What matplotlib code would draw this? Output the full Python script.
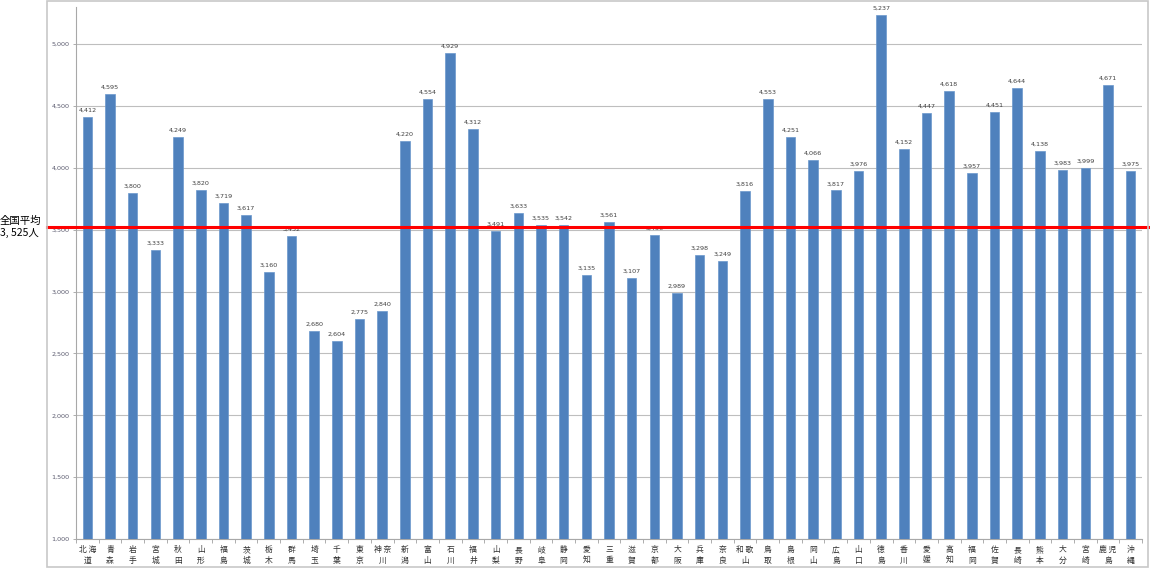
import matplotlib
matplotlib.use("Agg")
import matplotlib.pyplot as plt
from matplotlib.patches import Rectangle
from matplotlib.lines import Line2D
from matplotlib.ticker import FixedLocator, FuncFormatter
import matplotlib.transforms as mtransforms

plt.rcParams['font.family'] = ['Noto Sans CJK JP', 'DejaVu Sans']

prefectures = ["北 海\n道", "青\n森", "岩\n手", "宮\n城", "秋\n田", "山\n形", "福\n島",
               "茨\n城", "栃\n木", "群\n馬", "埼\n玉", "千\n葉", "東\n京", "神 奈\n川",
               "新\n潟", "富\n山", "石\n川", "福\n井", "山\n梨", "長\n野", "岐\n阜",
               "静\n岡", "愛\n知", "三\n重", "滋\n賀", "京\n都", "大\n阪", "兵\n庫",
               "奈\n良", "和 歌\n山", "鳥\n取", "島\n根", "岡\n山", "広\n島", "山\n口",
               "徳\n島", "香\n川", "愛\n媛", "高\n知", "福\n岡", "佐\n賀", "長\n崎",
               "熊\n本", "大\n分", "宮\n崎", "鹿 児\n島", "沖\n縄"]
values = [4412, 4595, 3800, 3333, 4249, 3820, 3719, 3617, 3160, 3452, 2680, 2604,
          2775, 2840, 4220, 4554, 4929, 4312, 3491, 3633, 3535, 3542, 3135, 3561,
          3107, 3456, 2989, 3298, 3249, 3816, 4553, 4251, 4066, 3817, 3976, 5237,
          4152, 4447, 4618, 3957, 4451, 4644, 4138, 3983, 3999, 4671, 3975]
national_avg = 3525
avg_label = "全国平均\n3, 525人"
y_ticks = [1000, 1500, 2000, 2500, 3000, 3500, 4000, 4500, 5000]

W, H = 1150, 570
fig = plt.figure(figsize=(W / 100, H / 100), dpi=100)
ax = fig.add_axes([76 / W, 1 - 539 / H, (1142 - 76) / W, (539 - 7) / H])

# outer chart frame
fig.patches.append(Rectangle((47 / W, 3 / H), (1148 - 47) / W, (570 - 3.5) / H,
                             transform=fig.transFigure, fill=False,
                             edgecolor="#C8C8C8", linewidth=1.2))

x = list(range(len(values)))
ax.bar(x, values, width=0.42, color="#4F81BD", edgecolor="#6A97CC",
       linewidth=0.5, zorder=3)

for xi, v in zip(x, values):
    ax.annotate(f"{v:,}", (xi, v), xytext=(0, 3), textcoords="offset points",
                ha="center", va="bottom", fontsize=4.6, color="#404040",
                family=["DejaVu Sans"], zorder=4)

# national average line spans the whole chart frame
trans = mtransforms.blended_transform_factory(fig.transFigure, ax.transData)
avg_line = Line2D([47 / W, 1.0], [national_avg, national_avg], transform=trans,
                  color="#FF0000", linewidth=2.2, zorder=6, clip_on=False)
ax.add_artist(avg_line)

ax.set_xlim(-0.5, len(values) - 0.5)
ax.set_ylim(1000, 5300)

ax.yaxis.set_major_locator(FixedLocator(y_ticks))
ax.yaxis.set_major_formatter(FuncFormatter(lambda v, p: f"{int(v):,}"))
ax.tick_params(axis="y", labelsize=4.6, labelcolor="#5A5A6E", length=2.2,
               color="#A0A0A0", width=0.6, pad=2.5)
for lab in ax.get_yticklabels():
    lab.set_family(["DejaVu Sans"])

ax.set_xticks(x)
ax.set_xticklabels(prefectures, fontsize=5.6, color="#303030", linespacing=1.45)
ax.tick_params(axis="x", which="major", length=0, pad=5)
ax.set_xticks([i - 0.5 for i in range(len(values) + 1)], minor=True)
ax.tick_params(axis="x", which="minor", length=3, color="#A0A0A0", width=0.6)

ax.grid(axis="y", color="#BEBEBE", linewidth=0.8, zorder=0)
ax.set_axisbelow(True)
for s in ["top", "right"]:
    ax.spines[s].set_visible(False)
for s in ["left", "bottom"]:
    ax.spines[s].set_color("#A8A8A8")
    ax.spines[s].set_linewidth(0.8)

fig.text(0.0, 1 - 227 / H, avg_label, ha="left", va="center", fontsize=7.5,
         color="#000000", linespacing=1.25)

fig.savefig("out.png", dpi=100)
